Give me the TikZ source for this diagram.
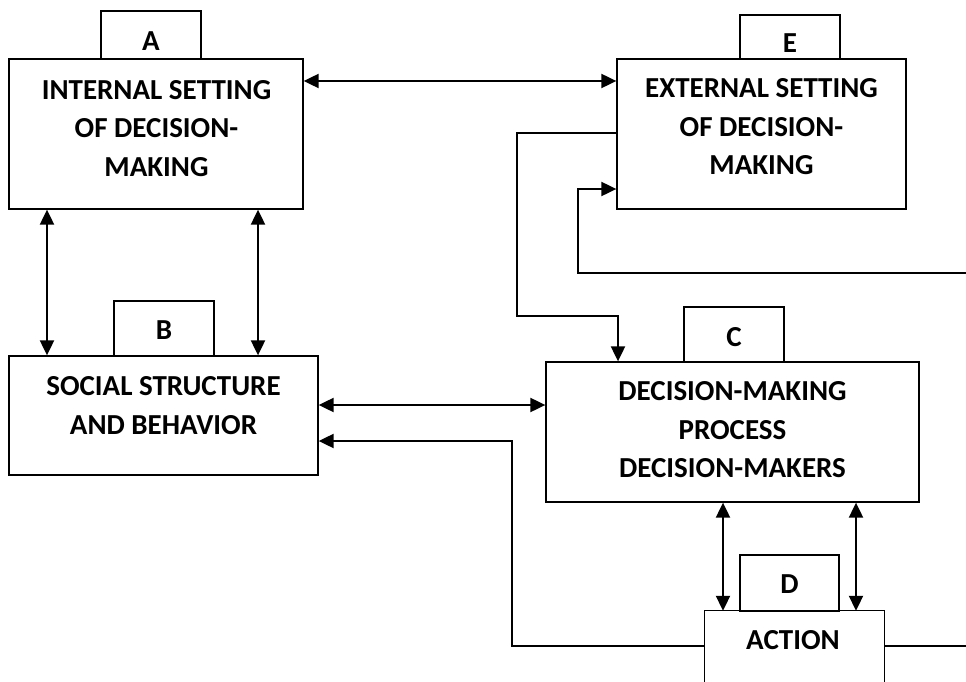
\documentclass[tikz,border=0pt]{standalone}
\usepackage{fontspec}
\setmainfont{Carlito}
\usetikzlibrary{arrows.meta,calc}
\begin{document}
\begin{tikzpicture}[x=1pt,y=-1pt,
  >={Triangle[length=15pt,width=14pt]},
  boxst/.style={draw,line width=1.3pt,inner sep=0pt},
  tabst/.style={draw,line width=1.3pt,inner sep=0pt,fill=white,font=\fontsize{29}{34}\selectfont\bfseries,text depth=0pt},
  txt/.style={align=center,inner sep=0pt,font=\fontsize{29}{38.5}\selectfont\bfseries},
  conn/.style={line width=2pt}]
\useasboundingbox (0,0) rectangle (966,682);
% boxes
\node[boxst,minimum width=294pt,minimum height=150pt] (A) at (156,134) {};
\node[boxst,minimum width=289pt,minimum height=150pt] (E) at (761.5,134) {};
\node[boxst,minimum width=309pt,minimum height=119pt] (B) at (163.5,415.5) {};
\node[boxst,minimum width=373pt,minimum height=140pt] (C) at (732.5,432) {};
\node[inner sep=0pt,minimum width=179pt,minimum height=71pt] (D) at (794.5,646.5) {};
\draw[line width=1.3pt] (D.south west) |- (D.north east) -- (D.south east);
% tabs
\node[tabst,minimum width=100pt,minimum height=48pt,text height=32pt] (tA) at (151,35) {A};
\node[tabst,minimum width=100pt,minimum height=44pt,text height=32pt] (tE) at (790,37) {E};
\node[tabst,minimum width=100pt,minimum height=55pt,text height=21pt] (tB) at (164,328.5) {B};
\node[tabst,minimum width=100pt,minimum height=55pt,text height=23pt] (tC) at (734,334.5) {C};
\node[tabst,minimum width=99pt,minimum height=56pt,text height=20pt] (tD) at (789.5,583) {D};
% texts
\node[txt] (At) at (156.5,128.5) {INTERNAL SETTING\\OF DECISION-\\MAKING};
\node[txt] (Et) at (761.5,127) {EXTERNAL SETTING\\OF DECISION-\\MAKING};
\node[txt] (Bt) at (163.5,405.5) {SOCIAL STRUCTURE\\AND BEHAVIOR};
\node[txt] (Ct) at (732.5,430) {DECISION-MAKING\\PROCESS\\DECISION-MAKERS};
\node[txt] (Dt) at (793,640) {ACTION};
% connectors
\draw[conn,<->] (A.east |- 0,81) -- (E.west |- 0,81);
\draw[conn,<->] (A.south -| 47,0) -- (B.north -| 47,0);
\draw[conn,<->] (A.south -| 258,0) -- (B.north -| 258,0);
\draw[conn,<->] (B.east |- 0,405) -- (C.west |- 0,405);
\draw[conn,<->] (C.south -| 723,0) -- (D.north -| 723,0);
\draw[conn,<->] (C.south -| 856,0) -- (D.north -| 856,0);
\draw[conn,->] (E.west |- 0,133) -| (517,316) -| (C.north -| 618,0);
\draw[conn,->] (D.west |- 0,646) -| (512,441) -- (B.east |- 0,441);
\coordinate (f1) at (966,273);
\coordinate (f2) at (966,646);
\draw[conn] (D.east |- 0,646) -- (f2);
\draw[conn,->] (f1) -| (578,189) -- (E.west |- 0,189);
\end{tikzpicture}
\end{document}
